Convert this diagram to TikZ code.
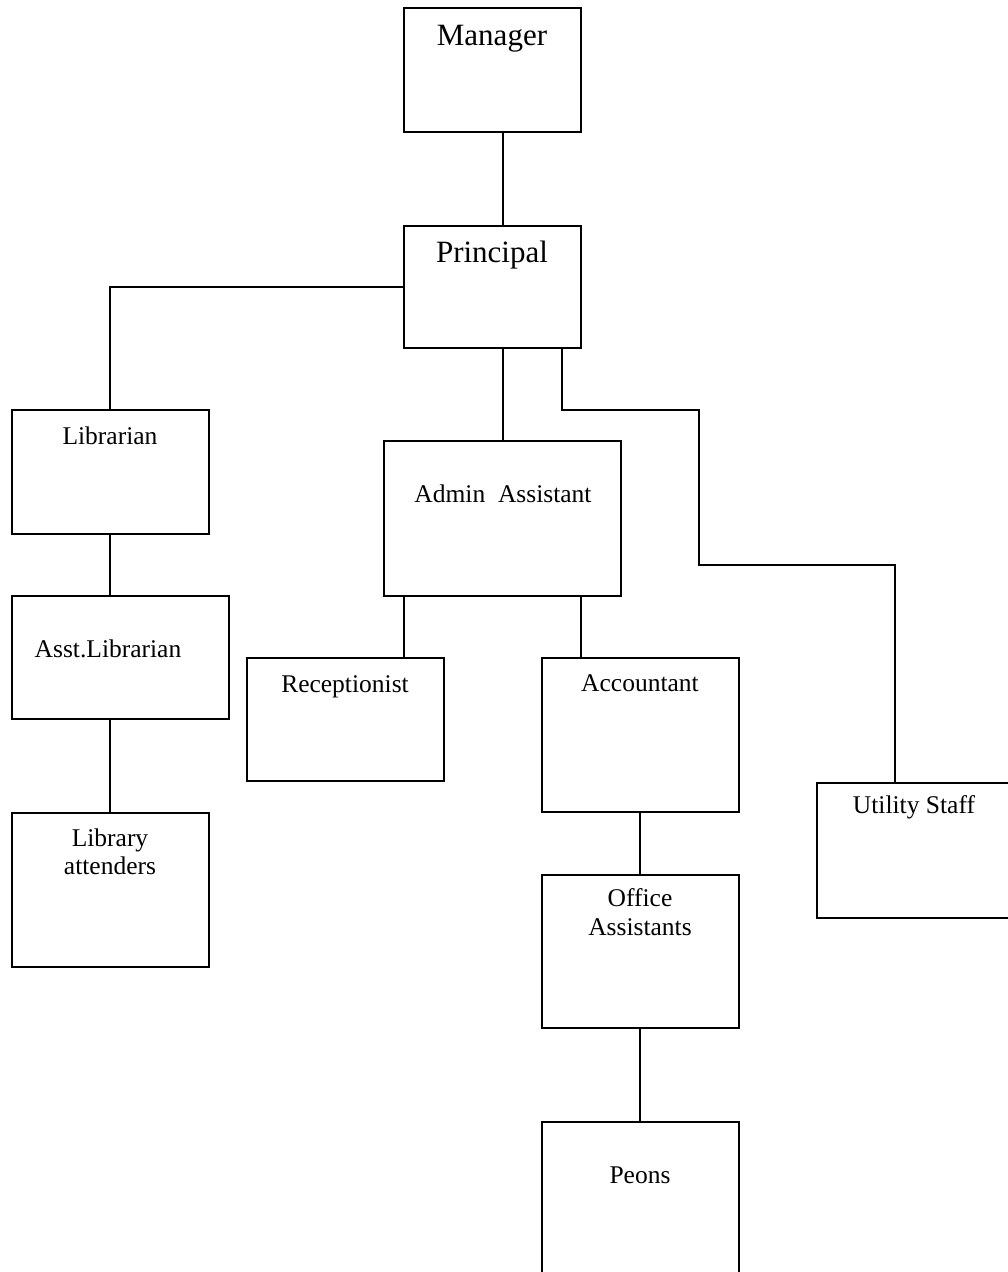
\documentclass[tikz,border=0pt]{standalone}
\usepackage{fontspec}
\setmainfont{Liberation Serif}
\begin{document}
\begin{tikzpicture}[x=1pt,y=-1pt,
  box/.style={draw,line width=1.8pt,rectangle,inner sep=0pt},
  lbl/.style={anchor=base,inner sep=0pt,font=\fontsize{25.5}{29}\selectfont},
  big/.style={anchor=base,inner sep=0pt,font=\fontsize{31}{36}\selectfont},
  conn/.style={line width=1.8pt}]
\useasboundingbox (0,0) rectangle (1008,1272);
\clip (0,0) rectangle (1008,1272);
% boxes
\node[box,minimum width=177pt,minimum height=124pt] (mgr) at (492.5,70) {};
\node[box,minimum width=177pt,minimum height=122pt] (pri) at (492.5,287) {};
\node[box,minimum width=197pt,minimum height=124pt] (lib) at (110.5,472) {};
\node[box,minimum width=217pt,minimum height=123pt] (alib) at (120.5,657.5) {};
\node[box,minimum width=197pt,minimum height=154pt] (latt) at (110.5,890) {};
\node[box,minimum width=237pt,minimum height=155pt] (adm) at (502.5,518.5) {};
\node[box,minimum width=197pt,minimum height=123pt] (rec) at (345.5,719.5) {};
\node[box,minimum width=197pt,minimum height=154pt] (acc) at (640.5,735) {};
\node[box,minimum width=197pt,minimum height=153pt] (off) at (640.5,951.5) {};
\node[box,minimum width=197pt,minimum height=180pt] (peo) at (640.5,1212) {};
\node[box,minimum width=220pt,minimum height=135pt] (uti) at (927,850.5) {};
% labels
\node[big] (tmgr) at (492,45) {Manager};
\node[big] (tpri) at (492,262) {Principal};
\node[lbl] (tlib) at (110,444) {Librarian};
\node[lbl] (talib) at (108,657) {Asst.Librarian};
\node[lbl] (tlatt1) at (110,846) {Library};
\node[lbl] (tlatt2) at (110,874) {attenders};
\node[lbl] (tadm) at (503,502) {Admin\ \ Assistant};
\node[lbl] (trec) at (345,692) {Receptionist};
\node[lbl] (tacc) at (640,691) {Accountant};
\node[lbl] (tuti) at (914,813) {Utility Staff};
\node[lbl] (toff1) at (640,906) {Office};
\node[lbl] (toff2) at (640,935) {Assistants};
\node[lbl] (tpeo) at (640,1183) {Peons};
% helper coordinates
\coordinate (xa) at (503,0);
\coordinate (xl) at (110,0);
\coordinate (yl) at (0,287);
\coordinate (xp) at (562,0);
\coordinate (yb1) at (0,410);
\coordinate (xb) at (699,0);
\coordinate (yb2) at (0,565);
\coordinate (xu) at (895,0);
\coordinate (xr) at (404,0);
\coordinate (xc) at (581,0);
\coordinate (xo) at (640,0);
% connectors
\draw[conn] (mgr.south -| xa) -- (pri.north -| xa);
\draw[conn] (pri.west |- yl) -| (lib.north -| xl);
\draw[conn] (lib.south -| xl) -- (alib.north -| xl);
\draw[conn] (alib.south -| xl) -- (latt.north -| xl);
\draw[conn] (pri.south -| xa) -- (adm.north -| xa);
\draw[conn] (pri.south -| xp) -- (xp |- yb1) -- (xb |- yb1) -- (xb |- yb2) -- (xu |- yb2) -- (uti.north -| xu);
\draw[conn] (adm.south -| xr) -- (rec.north -| xr);
\draw[conn] (adm.south -| xc) -- (acc.north -| xc);
\draw[conn] (acc.south -| xo) -- (off.north -| xo);
\draw[conn] (off.south -| xo) -- (peo.north -| xo);
\end{tikzpicture}
\end{document}
